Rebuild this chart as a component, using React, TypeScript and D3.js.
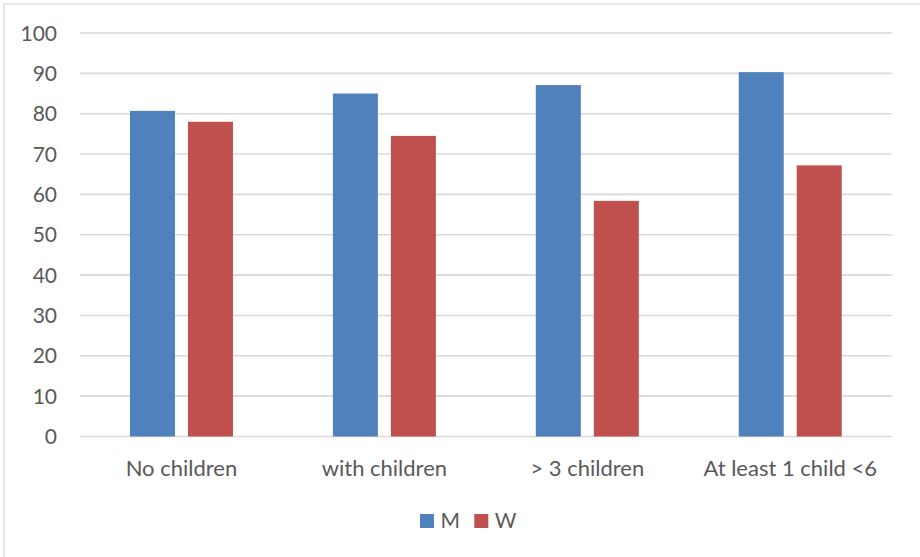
import React, { useEffect } from "react";
import * as d3 from "d3";

const categories = ["No children", "with children", "> 3 children", "At least 1 child <6"];
const seriesNames = ["M", "W"];
const valuesM = [80.7, 85.0, 87.1, 90.3];
const valuesW = [78.0, 74.5, 58.4, 67.2];
const yTicks = [0, 10, 20, 30, 40, 50, 60, 70, 80, 90, 100];
const colors = ["#4F81BD", "#C0504D"];

const W = 920;
const H = 557;
const plotLeft = 80;
const plotRight = 891.7;
const plotTop = 33;
const plotBottom = 436.5;
const FONT = "Lato, 'Open Sans', sans-serif";
const TEXT = "#595959";

export default function App() {
  useEffect(() => {
    document.body.style.margin = "0";
  }, []);

  const x0 = d3.scaleBand<string>().domain(categories).range([plotLeft, plotRight]).paddingInner(0).paddingOuter(0);
  const groupW = 103;
  const x1 = d3.scaleBand<string>().domain(seriesNames).range([0, groupW]).paddingInner(13 / 58).paddingOuter(0);
  const y = d3.scaleLinear().domain([0, 100]).range([plotBottom, plotTop]);
  const series = [valuesM, valuesW];

  return (
    <svg width={W} height={H} style={{ display: "block", background: "#fff" }} fontFamily={FONT}>
      <rect x={4} y={4} width={1000} height={1000} fill="#fff" stroke="#D9D9D9" strokeWidth={1.3} />
      {yTicks.map((t) => (
        <g key={t}>
          <line x1={plotLeft} x2={plotRight} y1={y(t)} y2={y(t)} stroke="#D9D9D9" strokeWidth={1.6} />
          <text x={57} y={y(t)} dy="0.36em" textAnchor="end" fontSize={21} fill={TEXT}>
            {t}
          </text>
        </g>
      ))}
      {categories.map((c, i) => {
        const gx = (x0(c) as number) + (x0.bandwidth() - groupW) / 2;
        return (
          <g key={c}>
            {seriesNames.map((s, j) => (
              <rect
                key={s}
                x={gx + (x1(s) as number)}
                y={y(series[j][i])}
                width={x1.bandwidth()}
                height={y(0) - y(series[j][i])}
                fill={colors[j]}
              />
            ))}
            <text x={(x0(c) as number) + x0.bandwidth() / 2} y={475.5} textAnchor="middle" fontSize={22} fill={TEXT}>
              {c}
            </text>
          </g>
        );
      })}
      <g>
        {seriesNames.map((s, j) => {
          const lx = [420, 474.3][j];
          return (
            <g key={s}>
              <rect x={lx} y={514} width={14} height={14} fill={colors[j]} />
              <text x={lx + 20.5} y={527.5} fontSize={21} fill={TEXT}>
                {s}
              </text>
            </g>
          );
        })}
      </g>
    </svg>
  );
}
